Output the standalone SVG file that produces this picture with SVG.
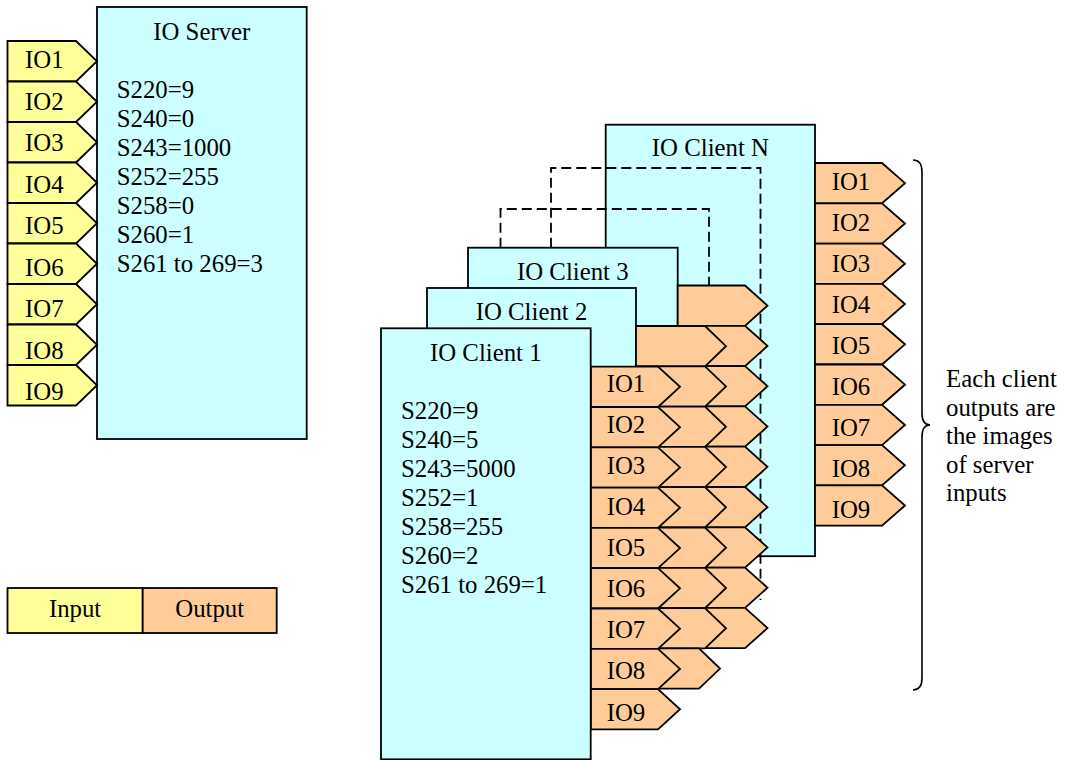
<svg xmlns="http://www.w3.org/2000/svg" width="1066" height="760" viewBox="0 0 1066 760">
<style>
text{font-family:"Liberation Serif","Times New Roman",serif;font-size:24.8px;fill:#000}
.box{fill:#CCFFFF;stroke:#000;stroke-width:1.8}
.in{fill:#FFFF99;stroke:#000;stroke-width:1.8;stroke-linejoin:miter}
.out{fill:#FFCC99;stroke:#000;stroke-width:1.8;stroke-linejoin:miter}
.dash{fill:none;stroke:#000;stroke-width:1.8;stroke-dasharray:10 5}
.brace{fill:none;stroke:#000;stroke-width:1.6}
.mid{text-anchor:middle}
</style>
<rect width="1066" height="760" fill="#fff"/>

<g id="io-server">
<rect class="box" x="97" y="7" width="209.7" height="432"/>
<text class="mid" x="201.8" y="40">IO Server</text>
<text x="116.7" y="97.7">S220=9</text>
<text x="116.7" y="126.7">S240=0</text>
<text x="116.7" y="155.7">S243=1000</text>
<text x="116.7" y="184.7">S252=255</text>
<text x="116.7" y="213.7">S258=0</text>
<text x="116.7" y="242.7">S260=1</text>
<text x="116.7" y="271.7">S261 to 269=3</text>
</g>
<g id="server-inputs">
<polygon class="in" points="7.5,41 76,41 97,61.25 76,81.5 7.5,81.5"/>
<polygon class="in" points="7.5,81.5 76,81.5 97,101.75 76,122 7.5,122"/>
<polygon class="in" points="7.5,122 76,122 97,142.25 76,162.5 7.5,162.5"/>
<polygon class="in" points="7.5,162.5 76,162.5 97,182.75 76,203 7.5,203"/>
<polygon class="in" points="7.5,203 76,203 97,223.25 76,243.5 7.5,243.5"/>
<polygon class="in" points="7.5,243.5 76,243.5 97,263.75 76,284 7.5,284"/>
<polygon class="in" points="7.5,284 76,284 97,304.25 76,324.5 7.5,324.5"/>
<polygon class="in" points="7.5,324.5 76,324.5 97,344.75 76,365 7.5,365"/>
<polygon class="in" points="7.5,365 76,365 97,385.25 76,405.5 7.5,405.5"/>
<text x="25" y="68">IO1</text>
<text x="25" y="109.5">IO2</text>
<text x="25" y="151">IO3</text>
<text x="25" y="192.5">IO4</text>
<text x="25" y="234">IO5</text>
<text x="25" y="275.5">IO6</text>
<text x="25" y="317">IO7</text>
<text x="25" y="358.5">IO8</text>
<text x="25" y="400">IO9</text>
</g>

<g id="io-client-n">
<rect class="box" x="605.7" y="124.7" width="209.3" height="431.5"/>
<text class="mid" x="710.4" y="156">IO Client N</text>
<polygon class="out" points="815,163 882,163 905,183.15 882,203.3 815,203.3"/>
<polygon class="out" points="815,203.3 882,203.3 905,223.45 882,243.6 815,243.6"/>
<polygon class="out" points="815,243.6 882,243.6 905,263.75 882,283.9 815,283.9"/>
<polygon class="out" points="815,283.9 882,283.9 905,304.05 882,324.2 815,324.2"/>
<polygon class="out" points="815,324.2 882,324.2 905,344.35 882,364.5 815,364.5"/>
<polygon class="out" points="815,364.5 882,364.5 905,384.65 882,404.8 815,404.8"/>
<polygon class="out" points="815,404.8 882,404.8 905,424.95 882,445.1 815,445.1"/>
<polygon class="out" points="815,445.1 882,445.1 905,465.25 882,485.4 815,485.4"/>
<polygon class="out" points="815,485.4 882,485.4 905,505.55 882,525.7 815,525.7"/>
<text x="831.7" y="190">IO1</text>
<text x="831.7" y="231">IO2</text>
<text x="831.7" y="272">IO3</text>
<text x="831.7" y="313">IO4</text>
<text x="831.7" y="354">IO5</text>
<text x="831.7" y="395">IO6</text>
<text x="831.7" y="436">IO7</text>
<text x="831.7" y="477">IO8</text>
<text x="831.7" y="518">IO9</text>
</g>

<g id="connectors">
<path class="dash" d="M500.5,247.7 V209 H709 V285.5"/>
<path class="dash" d="M551,247.7 V168 H760.5 V600"/>
</g>

<g id="io-client-3">
<rect class="box" x="468" y="247.7" width="209.7" height="432"/>
<text class="mid" x="572.8" y="279.5">IO Client 3</text>
<polygon class="out" points="677.7,285.5 745,285.5 767.5,305.65 745,325.8 677.7,325.8"/>
<polygon class="out" points="677.7,325.8 745,325.8 767.5,345.95 745,366.1 677.7,366.1"/>
<polygon class="out" points="677.7,366.1 745,366.1 767.5,386.25 745,406.4 677.7,406.4"/>
<polygon class="out" points="677.7,406.4 745,406.4 767.5,426.55 745,446.7 677.7,446.7"/>
<polygon class="out" points="677.7,446.7 745,446.7 767.5,466.85 745,487 677.7,487"/>
<polygon class="out" points="677.7,487 745,487 767.5,507.15 745,527.3 677.7,527.3"/>
<polygon class="out" points="677.7,527.3 745,527.3 767.5,547.45 745,567.6 677.7,567.6"/>
<polygon class="out" points="677.7,567.6 745,567.6 767.5,587.75 745,607.9 677.7,607.9"/>
<polygon class="out" points="677.7,607.9 745,607.9 767.5,628.05 745,648.2 677.7,648.2"/>
</g>

<g id="io-client-2">
<rect class="box" x="427" y="288" width="209" height="432"/>
<text class="mid" x="531.5" y="320">IO Client 2</text>
<polygon class="out" points="636,326 705,326 726,346.15 705,366.3 636,366.3"/>
<polygon class="out" points="636,366.3 705,366.3 726,386.45 705,406.6 636,406.6"/>
<polygon class="out" points="636,406.6 705,406.6 726,426.75 705,446.9 636,446.9"/>
<polygon class="out" points="636,446.9 705,446.9 726,467.05 705,487.2 636,487.2"/>
<polygon class="out" points="636,487.2 705,487.2 726,507.35 705,527.5 636,527.5"/>
<polygon class="out" points="636,527.5 705,527.5 726,547.65 705,567.8 636,567.8"/>
<polygon class="out" points="636,567.8 705,567.8 726,587.95 705,608.1 636,608.1"/>
<polygon class="out" points="636,608.1 705,608.1 726,628.25 705,648.4 636,648.4"/>
<polygon class="out" points="636,648.4 699,648.4 720,668.55 699,688.7 636,688.7"/>
</g>

<g id="io-client-1">
<rect class="box" x="381" y="328.3" width="209.7" height="431"/>
<text class="mid" x="485.8" y="360.7">IO Client 1</text>
<text x="401" y="418.5">S220=9</text>
<text x="401" y="447.5">S240=5</text>
<text x="401" y="476.5">S243=5000</text>
<text x="401" y="505.5">S252=1</text>
<text x="401" y="534.5">S258=255</text>
<text x="401" y="563.5">S260=2</text>
<text x="401" y="592.5">S261 to 269=1</text>
<polygon class="out" points="591,366.7 658,366.7 680,386.85 658,407 591,407"/>
<polygon class="out" points="591,407 658,407 680,427.15 658,447.3 591,447.3"/>
<polygon class="out" points="591,447.3 658,447.3 680,467.45 658,487.6 591,487.6"/>
<polygon class="out" points="591,487.6 658,487.6 680,507.75 658,527.9 591,527.9"/>
<polygon class="out" points="591,527.9 658,527.9 680,548.05 658,568.2 591,568.2"/>
<polygon class="out" points="591,568.2 658,568.2 680,588.35 658,608.5 591,608.5"/>
<polygon class="out" points="591,608.5 658,608.5 680,628.65 658,648.8 591,648.8"/>
<polygon class="out" points="591,648.8 658,648.8 680,668.95 658,689.1 591,689.1"/>
<polygon class="out" points="591,689.1 658,689.1 680,709.25 658,729.4 591,729.4"/>
<text x="606.7" y="391.7">IO1</text>
<text x="606.7" y="432.8">IO2</text>
<text x="606.7" y="473.9">IO3</text>
<text x="606.7" y="515">IO4</text>
<text x="606.7" y="556.1">IO5</text>
<text x="606.7" y="597.2">IO6</text>
<text x="606.7" y="638.3">IO7</text>
<text x="606.7" y="679.4">IO8</text>
<text x="606.7" y="720.5">IO9</text>
</g>

<g id="note">
<path class="brace" d="M913,160 Q922,160 922,172 V413 Q922,425 930,425 Q922,425 922,437 V678 Q922,690 913,690"/>
<text x="946" y="387">Each client</text>
<text x="946" y="415.5">outputs are</text>
<text x="946" y="444">the images</text>
<text x="946" y="472.5">of server</text>
<text x="946" y="501">inputs</text>
</g>

<g id="legend">
<rect class="in" x="7.5" y="588" width="135.2" height="45"/>
<rect class="out" x="142.7" y="588" width="134" height="45"/>
<text class="mid" x="75.1" y="617">Input</text>
<text class="mid" x="209.7" y="617">Output</text>
</g>
</svg>
